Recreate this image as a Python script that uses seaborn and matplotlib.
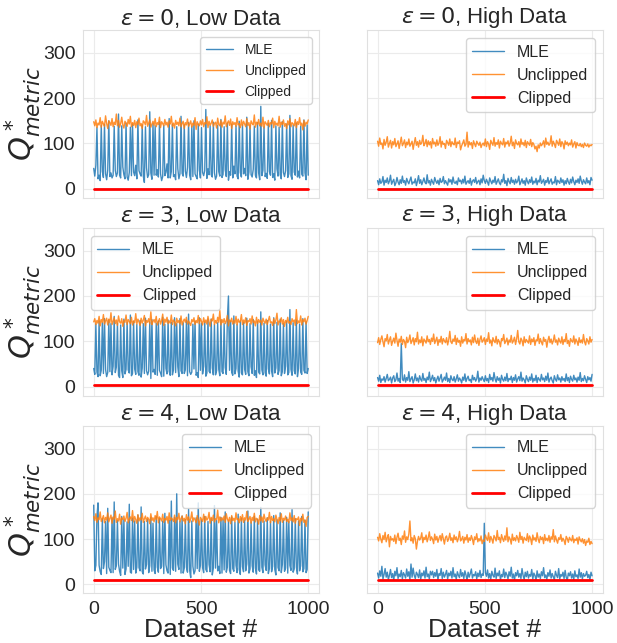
import numpy as np
import seaborn as sns
import matplotlib.pyplot as plt

# values (200 samples per series over the 1000 datasets)
eps_values = [0, 3, 4]
regimes = ["Low Data", "High Data"]
clipped_levels = [0, 4, 9]

eps0_low_mle = [45, 28, 52, 135, 22, 30, 18, 140, 38, 25, 142, 33, 20, 41, 150, 27, 35, 24, 30, 138,
                41, 27, 35, 165, 30, 24, 139, 48, 31, 22, 145, 26, 19, 36, 136, 29, 143, 37, 29, 52,
                22, 152, 40, 33, 28, 141, 28, 14, 137, 46, 25, 31, 170, 35, 21, 144, 30, 139, 30, 42,
                26, 148, 33, 18, 27, 140, 29, 36, 55, 24, 155, 24, 38, 142, 27, 31, 20, 137, 45, 22,
                33, 160, 34, 28, 141, 39, 25, 47, 146, 30, 20, 138, 27, 150, 33, 27, 22, 143, 41, 24,
                135, 36, 29, 40, 175, 23, 44, 31, 139, 31, 26, 147, 35, 21, 28, 140, 38, 28, 153, 25,
                32, 137, 42, 27, 145, 19, 38, 30, 142, 24, 50, 33, 139, 28, 22, 149, 36, 26, 141, 33,
                45, 29, 158, 21, 37, 140, 31, 26, 43, 138, 30, 24, 146, 35, 20, 182, 29, 41, 137, 27,
                34, 23, 144, 38, 30, 151, 25, 33, 19, 139, 44, 28, 136, 31, 22, 148, 36, 27, 40, 143,
                25, 33, 162, 29, 21, 140, 37, 30, 145, 26, 39, 24, 138, 32, 28, 152, 35, 20, 141, 30]
eps0_low_unc = [148, 139, 152, 135, 145, 141, 157, 136, 149, 143, 138, 161, 144, 133, 150, 146, 140, 155, 137, 147,
                142, 165, 139, 151, 136, 144, 158, 141, 134, 149, 145, 138, 153, 143, 160, 137, 146, 140, 151, 135,
                148, 142, 156, 139, 144, 133, 150, 147, 141, 162, 138, 145, 152, 136, 143, 149, 140, 155, 137, 146,
                142, 158, 135, 148, 144, 139, 153, 141, 147, 136, 150, 143, 160, 138, 145, 134, 151, 142, 147, 139,
                156, 137, 144, 149, 133, 146, 141, 154, 138, 143, 150, 136, 145, 140, 157, 131, 148, 142, 139, 150,
                141, 153, 137, 146, 143, 159, 135, 149, 140, 145, 152, 138, 144, 147, 134, 156, 142, 139, 151, 136,
                147, 143, 161, 137, 145, 150, 140, 154, 133, 148, 142, 146, 138, 157, 141, 144, 135, 152, 139, 149,
                143, 137, 155, 140, 146, 132, 150, 144, 141, 163, 136, 147, 142, 153, 139, 145, 138, 158, 134, 148,
                144, 140, 151, 137, 146, 143, 156, 135, 149, 141, 145, 139, 160, 136, 147, 142, 152, 138, 144, 133,
                150, 141, 155, 137, 146, 143, 139, 153, 135, 148, 142, 157, 140, 145, 130, 151, 138, 147, 143, 152]
eps0_high_mle = [18, 9, 22, 12, 15, 27, 8, 19, 14, 24, 11, 17, 30, 10, 16, 21, 7, 13, 25, 15,
                 9, 20, 12, 28, 14, 18, 8, 23, 16, 11, 19, 26, 10, 15, 13, 22, 7, 17, 29, 12,
                 20, 9, 16, 24, 14, 11, 31, 13, 18, 8, 21, 15, 10, 25, 17, 12, 19, 9, 23, 14,
                 16, 27, 11, 18, 13, 8, 22, 15, 20, 10, 26, 14, 12, 17, 9, 24, 16, 19, 11, 21,
                 13, 28, 10, 15, 18, 12, 23, 8, 17, 20, 14, 25, 11, 16, 19, 9, 22, 13, 30, 18,
                 12, 21, 15, 8, 24, 17, 11, 19, 14, 27, 10, 16, 22, 13, 9, 20, 15, 32, 12, 18,
                 7, 23, 16, 11, 25, 14, 19, 10, 21, 13, 17, 28, 9, 15, 22, 12, 18, 8, 24, 16,
                 11, 20, 14, 26, 10, 17, 13, 23, 9, 19, 15, 29, 12, 16, 21, 8, 18, 14, 25, 11,
                 17, 22, 10, 15, 13, 27, 9, 19, 16, 12, 24, 14, 20, 8, 18, 11, 23, 15, 10, 21,
                 13, 26, 16, 9, 19, 14, 22, 12, 28, 17, 10, 20, 15, 11, 24, 13, 18, 9, 25, 19]
eps0_high_unc = [105, 94, 112, 98, 101, 88, 109, 96, 103, 115, 92, 100, 107, 90, 104, 97, 111, 93, 99, 106,
                 89, 102, 114, 95, 100, 108, 91, 103, 97, 110, 94, 99, 105, 87, 101, 113, 96, 104, 92, 107,
                 98, 102, 118, 95, 100, 109, 93, 106, 97, 104, 90, 111, 99, 103, 94, 108, 96, 101, 115, 92,
                 105, 98, 100, 89, 107, 102, 96, 110, 93, 104, 99, 97, 112, 91, 103, 100, 106, 86, 95, 101,
                 108, 94, 98, 125, 92, 104, 97, 102, 89, 106, 99, 93, 105, 100, 96, 103, 91, 98, 101, 95,
                 110, 93, 104, 99, 87, 107, 101, 96, 113, 94, 102, 98, 108, 90, 105, 100, 97, 111, 92, 103,
                 99, 106, 94, 101, 116, 95, 103, 89, 108, 100, 97, 104, 92, 110, 98, 102, 95, 107, 91, 104,
                 100, 96, 109, 93, 102, 98, 88, 94, 82, 97, 90, 101, 95, 99, 106, 92, 112, 98, 103, 96,
                 100, 117, 94, 105, 99, 91, 107, 102, 96, 110, 93, 104, 100, 88, 106, 98, 103, 95, 101, 97,
                 108, 92, 99, 104, 90, 102, 96, 95, 100, 93, 98, 91, 101, 96, 94, 99, 92, 97, 95, 98]

eps3_low_mle = [40, 27, 138, 32, 22, 145, 24, 36, 141, 29, 150, 38, 22, 31, 147, 33, 139, 26, 45, 155,
                31, 43, 140, 25, 20, 136, 35, 20, 149, 28, 38, 142, 37, 30, 158, 24, 29, 144, 39, 27,
                137, 33, 25, 146, 21, 41, 139, 29, 151, 35, 26, 34, 143, 18, 148, 32, 38, 27, 140, 25,
                145, 36, 30, 22, 153, 23, 138, 40, 28, 147, 34, 25, 142, 26, 37, 152, 31, 139, 44, 22,
                150, 35, 29, 141, 29, 37, 146, 24, 160, 33, 27, 32, 138, 39, 144, 25, 31, 20, 152, 36,
                140, 28, 45, 143, 23, 30, 149, 34, 30, 149, 41, 26, 137, 26, 35, 141, 38, 24, 147, 33,
                29, 139, 42, 27, 150, 200, 36, 144, 31, 25, 156, 28, 40, 137, 34, 21, 145, 30, 26, 142,
                38, 27, 151, 33, 24, 139, 44, 29, 148, 25, 35, 20, 143, 32, 28, 165, 37, 26, 140, 31,
                23, 146, 39, 28, 138, 34, 22, 152, 30, 41, 142, 27, 36, 149, 24, 33, 139, 29, 45, 144,
                26, 31, 170, 38, 25, 141, 35, 28, 147, 22, 40, 138, 32, 27, 150, 36, 30, 143, 29, 40]
eps3_low_unc = [143, 150, 137, 146, 140, 155, 134, 148, 142, 159, 138, 145, 151, 136, 149, 141, 163, 137, 144, 152,
                139, 147, 135, 156, 143, 140, 150, 133, 146, 142, 158, 137, 148, 144, 139, 153, 136, 145, 141, 161,
                138, 149, 143, 135, 151, 140, 147, 157, 134, 146, 142, 150, 139, 165, 137, 144, 148, 141, 155, 136,
                143, 150, 138, 146, 160, 135, 149, 142, 153, 139, 145, 140, 158, 137, 147, 143, 134, 151, 141, 146,
                139, 156, 136, 144, 149, 142, 153, 138, 145, 140, 135, 148, 143, 152, 137, 146, 141, 157, 139, 150,
                144, 136, 152, 141, 147, 138, 155, 143, 133, 149, 145, 160, 137, 146, 140, 153, 142, 168, 136, 148,
                141, 150, 139, 145, 157, 134, 147, 143, 151, 138, 146, 140, 155, 136, 149, 142, 144, 159, 137, 147,
                140, 152, 135, 146, 143, 150, 138, 156, 141, 145, 134, 153, 139, 148, 142, 147, 136, 151, 144, 140,
                149, 137, 146, 155, 141, 143, 135, 150, 139, 147, 162, 136, 145, 142, 152, 138, 148, 133, 146, 141,
                153, 140, 144, 137, 150, 143, 147, 135, 170, 139, 145, 141, 156, 136, 148, 143, 151, 138, 146, 155]
eps3_high_mle = [20, 12, 25, 9, 17, 14, 22, 10, 18, 27, 13, 16, 21, 8, 19, 24, 11, 15, 30, 12,
                 18, 9, 95, 16, 13, 26, 10, 20, 14, 33, 11, 17, 22, 8, 15, 28, 13, 19, 10, 24,
                 16, 12, 29, 14, 18, 9, 21, 15, 32, 11, 17, 25, 13, 20, 8, 16, 23, 12, 19, 27,
                 10, 15, 21, 14, 30, 11, 18, 9, 24, 16, 13, 22, 10, 17, 26, 12, 19, 15, 8, 21,
                 14, 28, 11, 18, 23, 13, 16, 9, 25, 15, 20, 12, 17, 34, 10, 19, 14, 22, 16, 11,
                 24, 13, 18, 9, 27, 15, 20, 12, 31, 17, 10, 22, 14, 19, 8, 25, 16, 12, 21, 13,
                 29, 11, 18, 15, 23, 9, 20, 14, 26, 10, 17, 22, 13, 32, 12, 19, 15, 8, 24, 16,
                 11, 21, 14, 28, 10, 18, 13, 25, 9, 20, 16, 12, 27, 15, 19, 11, 23, 14, 30, 10,
                 17, 21, 13, 8, 24, 16, 12, 26, 15, 19, 10, 22, 14, 18, 11, 28, 13, 20, 9, 23,
                 16, 12, 25, 15, 19, 10, 21, 14, 31, 11, 18, 13, 24, 16, 9, 22, 15, 20, 12, 27]
eps3_high_unc = [97, 108, 93, 104, 112, 99, 88, 106, 101, 115, 94, 103, 110, 91, 100, 107, 96, 118, 102, 89,
                 105, 98, 111, 93, 104, 100, 86, 109, 97, 103, 114, 95, 101, 108, 92, 106, 99, 120, 94, 103,
                 97, 110, 90, 105, 101, 96, 112, 99, 104, 93, 107, 100, 116, 95, 102, 109, 91, 104, 98, 111,
                 94, 106, 101, 97, 108, 92, 103, 122, 99, 95, 105, 100, 113, 93, 107, 98, 102, 89, 110, 96,
                 104, 101, 117, 94, 106, 99, 103, 92, 109, 97, 114, 100, 95, 107, 91, 104, 112, 98, 102, 108,
                 93, 105, 100, 119, 96, 103, 90, 108, 101, 97, 111, 94, 104, 99, 88, 106, 102, 115, 95, 100,
                 107, 92, 103, 98, 113, 96, 101, 109, 93, 105, 124, 99, 94, 107, 102, 90, 110, 97, 104, 100,
                 96, 112, 93, 105, 99, 108, 91, 103, 101, 116, 95, 106, 98, 92, 109, 100, 104, 87, 102, 111,
                 97, 105, 94, 101, 114, 98, 103, 92, 107, 100, 96, 110, 93, 104, 99, 117, 95, 102, 89, 106,
                 101, 98, 112, 94, 105, 100, 91, 108, 97, 103, 96, 115, 99, 92, 106, 101, 94, 110, 98, 104]

eps4_low_mle = [175, 30, 42, 150, 180, 42, 28, 22, 145, 35, 50, 139, 24, 168, 38, 31, 26, 147, 26, 182,
                33, 41, 141, 45, 29, 20, 150, 36, 143, 22, 34, 138, 40, 177, 27, 25, 146, 33, 140, 25,
                38, 153, 37, 30, 171, 28, 23, 139, 34, 44, 144, 26, 41, 148, 29, 135, 32, 24, 150, 38,
                27, 146, 35, 40, 140, 24, 157, 43, 30, 25, 142, 22, 184, 36, 31, 148, 29, 200, 45, 33,
                139, 25, 151, 25, 36, 143, 38, 27, 166, 31, 15, 140, 40, 23, 30, 147, 35, 180, 29, 42,
                142, 37, 26, 150, 33, 28, 139, 44, 28, 145, 21, 36, 174, 36, 141, 30, 40, 24, 148, 25,
                143, 32, 160, 27, 38, 140, 31, 24, 149, 35, 29, 137, 42, 26, 155, 33, 22, 146, 39, 28,
                141, 30, 45, 162, 25, 34, 138, 41, 27, 150, 36, 23, 144, 32, 29, 170, 38, 26, 140, 43,
                31, 147, 24, 35, 139, 28, 40, 152, 33, 21, 143, 37, 30, 158, 26, 44, 141, 29, 36, 148,
                25, 139, 42, 31, 165, 27, 34, 145, 38, 23, 140, 30, 41, 150, 28, 35, 142, 26, 33, 160]
eps4_low_unc = [150, 141, 156, 137, 147, 143, 160, 139, 145, 152, 136, 148, 142, 158, 138, 146, 153, 135, 149, 144,
                162, 137, 145, 140, 155, 133, 147, 143, 151, 139, 146, 159, 136, 144, 149, 141, 163, 138, 150, 143,
                135, 154, 140, 147, 142, 157, 137, 145, 151, 139, 148, 144, 134, 156, 141, 147, 138, 152, 143, 161,
                136, 149, 145, 140, 155, 137, 146, 142, 150, 135, 158, 141, 147, 144, 139, 153, 136, 148, 143, 157,
                138, 145, 151, 140, 146, 134, 154, 142, 149, 137, 145, 160, 139, 147, 143, 136, 152, 141, 131, 148,
                144, 139, 155, 137, 150, 142, 146, 159, 135, 148, 141, 153, 138, 145, 143, 164, 136, 149, 140, 147,
                142, 151, 137, 156, 144, 139, 148, 134, 152, 141, 146, 138, 158, 143, 145, 136, 150, 140, 154, 137,
                147, 142, 161, 139, 144, 150, 135, 148, 141, 157, 138, 146, 143, 133, 152, 140, 149, 137, 155, 144,
                139, 147, 142, 159, 136, 150, 141, 145, 138, 153, 143, 134, 148, 140, 156, 137, 146, 142, 151, 139,
                144, 136, 158, 141, 147, 138, 152, 135, 145, 143, 149, 130, 146, 140, 155, 137, 142, 128, 148, 150]
eps4_high_mle = [25, 14, 30, 18, 40, 12, 22, 35, 16, 27, 11, 20, 33, 15, 24, 9, 29, 19, 37, 13,
                 23, 17, 31, 12, 26, 21, 14, 34, 18, 28, 10, 45, 16, 36, 20, 13, 27, 22, 15, 32,
                 11, 25, 19, 30, 14, 38, 17, 23, 12, 29, 21, 29, 15, 26, 18, 33, 10, 24, 20, 35,
                 13, 27, 16, 22, 31, 12, 25, 19, 29, 14, 37, 17, 23, 11, 28, 20, 15, 33, 18, 26,
                 13, 30, 21, 9, 27, 16, 24, 34, 14, 22, 19, 28, 12, 25, 17, 31, 15, 23, 20, 135,
                 26, 18, 32, 14, 24, 11, 29, 20, 16, 36, 13, 25, 19, 30, 10, 22, 17, 34, 15, 27,
                 21, 12, 28, 18, 38, 14, 23, 9, 26, 19, 31, 16, 24, 13, 35, 20, 11, 27, 17, 29,
                 14, 22, 18, 33, 12, 25, 20, 9, 30, 16, 23, 13, 28, 19, 37, 15, 21, 11, 26, 18,
                 32, 14, 24, 17, 10, 29, 20, 15, 35, 12, 22, 18, 27, 13, 31, 16, 9, 25, 19, 28,
                 14, 23, 11, 30, 17, 21, 13, 34, 16, 26, 12, 24, 18, 20, 29, 15, 22, 10, 27, 19]
eps4_high_unc = [104, 96, 112, 100, 92, 108, 99, 115, 94, 103, 110, 83, 106, 98, 101, 95, 109, 90, 104, 113,
                 97, 102, 88, 107, 100, 118, 93, 105, 99, 111, 140, 96, 103, 91, 108, 101, 78, 95, 106, 98,
                 102, 114, 92, 104, 99, 109, 94, 103, 116, 97, 105, 100, 90, 111, 98, 106, 93, 102, 108, 96,
                 112, 100, 89, 104, 107, 95, 101, 113, 97, 103, 92, 109, 99, 105, 94, 102, 117, 96, 100, 106,
                 91, 104, 98, 110, 93, 103, 97, 108, 100, 88, 105, 99, 112, 94, 101, 96, 107, 90, 98, 95,
                 109, 102, 97, 114, 93, 106, 100, 91, 108, 103, 96, 119, 99, 104, 92, 110, 101, 95, 107, 98,
                 125, 94, 105, 100, 89, 111, 97, 103, 96, 108, 102, 93, 115, 99, 106, 91, 104, 100, 97, 112,
                 94, 107, 101, 88, 109, 98, 103, 95, 114, 100, 92, 106, 99, 104, 90, 110, 97, 102, 96, 108,
                 93, 105, 100, 121, 94, 107, 98, 91, 103, 99, 110, 95, 102, 97, 88, 106, 101, 93, 104, 99,
                 96, 108, 92, 100, 97, 103, 89, 105, 98, 94, 101, 91, 99, 86, 96, 93, 102, 88, 95, 90]

mle = [[eps0_low_mle, eps0_high_mle], [eps3_low_mle, eps3_high_mle], [eps4_low_mle, eps4_high_mle]]
unclipped = [[eps0_low_unc, eps0_high_unc], [eps3_low_unc, eps3_high_unc], [eps4_low_unc, eps4_high_unc]]

sns.set_style("whitegrid", {"grid.color": ".92", "axes.edgecolor": ".88"})
plt.rcParams['font.family'] = ['Liberation Sans', 'DejaVu Sans']

fig, axes = plt.subplots(3, 2, figsize=(6.17, 6.43), dpi=100, sharex=True, sharey=True)
fig.subplots_adjust(left=0.1345, right=0.977, top=0.953, bottom=0.077, wspace=0.203, hspace=0.18)

for i, eps in enumerate(eps_values):
    for j, regime in enumerate(regimes):
        ax = axes[i, j]
        m = mle[i][j]
        u = unclipped[i][j]
        xs = np.linspace(0, 999, len(m))
        xu = np.linspace(0, 999, len(u))
        sns.lineplot(x=xs, y=m, ax=ax, color="tab:blue", lw=1.0, alpha=0.85, label="MLE")
        sns.lineplot(x=xu, y=u, ax=ax, color="tab:orange", lw=1.0, alpha=0.85, label="Unclipped")
        sns.lineplot(x=xs, y=np.full(len(xs), clipped_levels[i]), ax=ax, color="red", lw=2,
                     label="Clipped")
        ax.set_title(r"$\varepsilon = %d$, %s" % (eps, regime), fontsize=16, pad=4)
        ax.set_ylim(-20, 350)
        ax.set_xticks([0, 500, 1000])
        ax.set_yticks([0, 100, 200, 300])
        ax.tick_params(labelsize=14, pad=2)
        leg_size = 10 if (i == 0 and j == 0) else 11.5
        loc = "upper left" if (i == 1 and j == 0) else "upper right"
        ax.legend(loc=loc, fontsize=leg_size)
        if j == 0:
            ax.set_ylabel(r"$Q^*_{metric}$", fontsize=22, labelpad=0)
        if i == 2:
            ax.set_xlabel("Dataset #", fontsize=19, labelpad=0)

fig.savefig("out.png", dpi=100)
